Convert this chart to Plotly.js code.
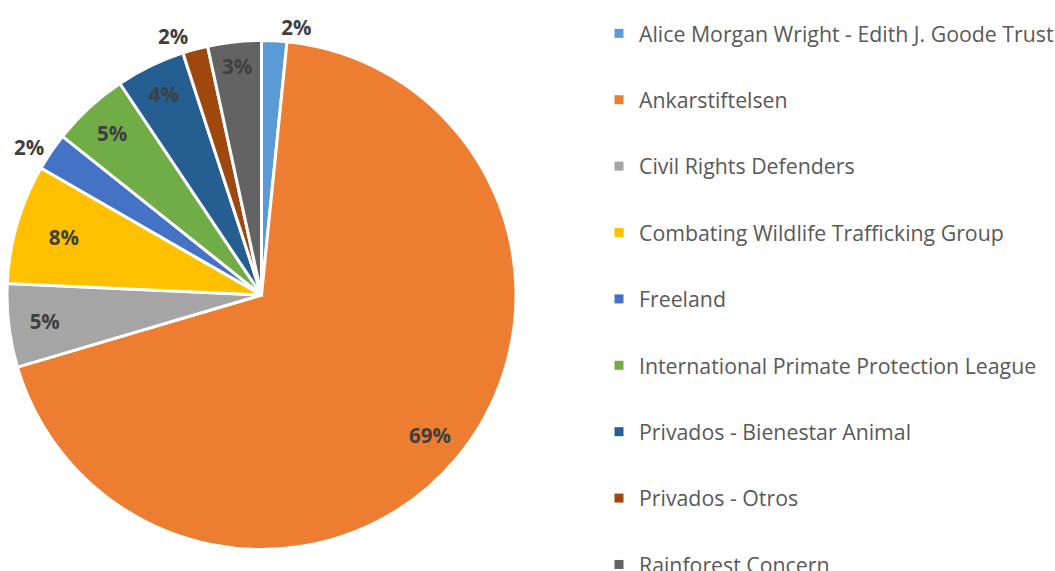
<!DOCTYPE html>
<html>
<head>
<meta charset="utf-8">
<script src="https://cdn.plot.ly/plotly-3.0.1.min.js"></script>
<style>html,body{margin:0;padding:0;background:#fff;}#chart{width:1055px;height:571px;overflow:hidden;}</style>
</head>
<body>
<div id="chart"></div>
<script>
const categories = [
  "Alice Morgan Wright - Edith J. Goode Trust",
  "Ankarstiftelsen",
  "Civil Rights Defenders",
  "Combating Wildlife Trafficking Group",
  "Freeland",
  "International Primate Protection League",
  "Privados - Bienestar Animal",
  "Privados - Otros",
  "Rainforest Concern"
];
const shares = [1.6, 68.9, 5.3, 7.6, 2.4, 4.9, 4.4, 1.6, 3.4];
const colors = ["#5B9BD5", "#ED7D31", "#A5A5A5", "#FFC000", "#4472C4", "#70AD47", "#255E91", "#9E480E", "#636363"];
const labelPositions = ["outside", "inside", "inside", "inside", "outside", "inside", "inside", "outside", "inside"];
// the big slice's label sits near the rim (drawn by a transparent ring on top)
const rimLabel = [false, true, false, false, false, false, false, false, false];

const W = 1055, H = 571;
const cx = 261.5, cy = 295, R = 254.5;
const dom = {x: [(cx - R) / W, (cx + R) / W], y: [(H - cy - R) / H, (H - cy + R) / H]};
const pctFont = {family: "Open Sans", size: 20.5, color: "#404040", weight: "bold"};

const pie = {
  type: "pie",
  labels: categories,
  values: shares,
  sort: false,
  direction: "clockwise",
  rotation: 0,
  marker: {colors: colors, line: {color: "#ffffff", width: 3}},
  texttemplate: rimLabel.map(r => r ? "" : "%{percent:.0%}"),
  textposition: labelPositions,
  insidetextorientation: "horizontal",
  textfont: pctFont,
  insidetextfont: pctFont,
  outsidetextfont: pctFont,
  showlegend: false,
  hoverinfo: "label+percent",
  domain: dom
};

const rim = {
  type: "pie",
  labels: categories,
  values: shares,
  sort: false,
  direction: "clockwise",
  rotation: 0,
  hole: 0.72,
  marker: {colors: colors.map(() => "rgba(0,0,0,0)"), line: {width: 0}},
  texttemplate: rimLabel.map(r => r ? "%{percent:.0%}" : ""),
  textposition: "inside",
  insidetextorientation: "horizontal",
  insidetextfont: pctFont,
  showlegend: false,
  hoverinfo: "skip",
  domain: dom
};

const legendTraces = categories.map((name, i) => ({
  type: "scatter",
  mode: "markers",
  x: [null], y: [null],
  name: name,
  legendgroup: "g" + i,
  marker: {symbol: "square", size: 9, color: colors[i]},
  hoverinfo: "skip"
}));

const layout = {
  width: W, height: H,
  margin: {l: 0, r: 0, t: 0, b: 0, autoexpand: false},
  paper_bgcolor: "#ffffff",
  plot_bgcolor: "#ffffff",
  xaxis: {visible: false},
  yaxis: {visible: false},
  showlegend: true,
  legend: {
    x: 599 / W, xanchor: "left",
    y: 1 - 13 / H, yanchor: "top",
    traceorder: "grouped",
    tracegroupgap: 35.7,
    font: {family: "Open Sans", size: 21.3, color: "#595959"},
    bgcolor: "rgba(0,0,0,0)",
    maxheight: 2000
  }
};

Plotly.newPlot("chart", [pie, rim].concat(legendTraces), layout, {displayModeBar: false, staticPlot: true});
</script>
</body>
</html>
